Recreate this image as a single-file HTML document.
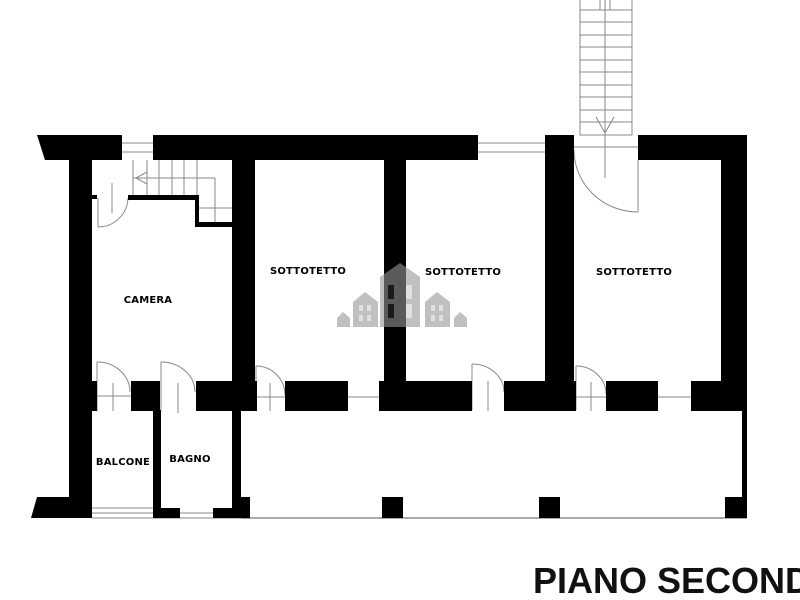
<!DOCTYPE html>
<html><head><style>html,body{margin:0;padding:0;background:#fff;width:800px;height:600px;overflow:hidden}</style></head>
<body>
<svg width="800" height="600" viewBox="0 0 800 600" xmlns="http://www.w3.org/2000/svg" font-family="Liberation Sans, sans-serif">
<rect width="800" height="600" fill="#fff"/>
<g stroke="#888" stroke-width="1" fill="none">
<rect x="580" y="-2" width="52" height="137"/>
<line x1="605" y1="0" x2="605" y2="178"/>
<line x1="600" y1="0" x2="600" y2="10"/><line x1="610" y1="0" x2="610" y2="10"/>
<line x1="580" y1="10" x2="632" y2="10"/><line x1="580" y1="22" x2="632" y2="22"/><line x1="580" y1="35" x2="632" y2="35"/><line x1="580" y1="47" x2="632" y2="47"/><line x1="580" y1="60" x2="632" y2="60"/><line x1="580" y1="72" x2="632" y2="72"/><line x1="580" y1="85" x2="632" y2="85"/><line x1="580" y1="97" x2="632" y2="97"/><line x1="580" y1="110" x2="632" y2="110"/><line x1="580" y1="122" x2="632" y2="122"/>
<polyline points="596,117 605,133 614,117"/>
<line x1="574" y1="147" x2="638" y2="147"/>
<path d="M574,150 A64,62 0 0 0 638,212"/><line x1="638" y1="160" x2="638" y2="212"/>
<line x1="122" y1="143" x2="153" y2="143"/><line x1="122" y1="152" x2="153" y2="152"/>
<line x1="478" y1="143" x2="545" y2="143"/><line x1="478" y1="152" x2="545" y2="152"/>
<line x1="133" y1="160" x2="133" y2="195"/><line x1="147" y1="160" x2="147" y2="195"/><line x1="159" y1="160" x2="159" y2="195"/><line x1="172" y1="160" x2="172" y2="195"/><line x1="184" y1="160" x2="184" y2="195"/><line x1="197" y1="160" x2="197" y2="225"/>
<line x1="133" y1="178" x2="215" y2="178"/><line x1="215" y1="178" x2="215" y2="225"/>
<line x1="197" y1="208" x2="232" y2="208"/><polyline points="147,172 136,178 147,184"/>
<line x1="98" y1="198" x2="98" y2="227"/><path d="M98,227 A30,30 0 0 0 128,198"/><line x1="112" y1="183" x2="112" y2="213"/>
<line x1="97" y1="362" x2="97" y2="411"/><path d="M97,362 A33,30 0 0 1 130,392"/><line x1="97" y1="396" x2="131" y2="396"/><line x1="113" y1="383" x2="113" y2="411"/>
<line x1="161" y1="362" x2="161" y2="411"/><path d="M161,362 A34,30 0 0 1 195,392"/><line x1="178" y1="383" x2="178" y2="413"/>
<line x1="256" y1="366" x2="256" y2="410"/><path d="M256,366 A29,29 0 0 1 285,395"/><line x1="255" y1="397" x2="285" y2="397"/><line x1="270" y1="383" x2="270" y2="411"/>
<line x1="472" y1="364" x2="472" y2="410"/><path d="M472,364 A32,28 0 0 1 504,392"/><line x1="488" y1="381" x2="488" y2="411"/>
<line x1="576" y1="366" x2="576" y2="410"/><path d="M576,366 A30,28 0 0 1 606,394"/><line x1="591" y1="382" x2="591" y2="411"/><line x1="576" y1="397" x2="606" y2="397"/>
<line x1="348" y1="397" x2="379" y2="397"/><line x1="658" y1="397" x2="691" y2="397"/>
<line x1="92" y1="508" x2="153" y2="508"/><line x1="92" y1="513" x2="153" y2="513"/>
<line x1="180" y1="513" x2="213" y2="513"/>
<line x1="241" y1="518" x2="747" y2="518" stroke="#aaa" stroke-width="2"/>
<line x1="92" y1="518" x2="250" y2="518"/>
</g>
<g fill="#000">
<polygon points="37,135 122,135 122,160 45,160"/>
<rect x="153" y="135" width="163" height="25"/>
<rect x="255" y="135" width="61" height="8"/>
<rect x="316" y="135" width="162" height="25"/>
<rect x="545" y="135" width="29" height="25"/>
<rect x="638" y="135" width="109" height="25"/>
<rect x="69" y="135" width="23" height="383"/>
<rect x="232" y="135" width="23" height="276"/>
<rect x="384" y="135" width="22" height="250"/>
<rect x="545" y="135" width="29" height="250"/>
<rect x="721" y="135" width="26" height="276"/>
<rect x="742" y="405" width="5" height="113"/>
<rect x="128" y="195" width="70" height="5"/>
<rect x="195" y="195" width="4" height="32"/>
<rect x="195" y="222" width="37" height="5"/>
<rect x="92" y="195" width="5" height="4"/>
<rect x="92" y="381" width="5" height="30"/>
<rect x="131" y="381" width="29" height="30"/>
<rect x="196" y="381" width="59" height="30"/>
<rect x="255" y="381" width="2" height="30"/>
<rect x="285" y="381" width="63" height="30"/>
<rect x="379" y="381" width="93" height="30"/>
<rect x="504" y="381" width="72" height="30"/>
<rect x="606" y="381" width="52" height="30"/>
<rect x="691" y="381" width="56" height="30"/>
<rect x="153" y="410" width="8" height="108"/>
<rect x="232" y="410" width="9" height="108"/>
<rect x="232" y="497" width="18" height="21"/>
<rect x="153" y="508" width="27" height="10"/>
<rect x="213" y="508" width="37" height="10"/>
<polygon points="37,497 92,497 92,518 31,518"/>
<rect x="382" y="497" width="21" height="21"/>
<rect x="539" y="497" width="21" height="21"/>
<rect x="725" y="497" width="22" height="21"/>
</g>
<g fill="rgb(150,150,150)" fill-opacity="0.6">
<polygon points="380,277 400,263 420,277 420,327 380,327"/>
<polygon points="353,302 365,292 378,302 378,327 353,327"/>
<polygon points="425,302 437,292 450,302 450,327 425,327"/>
<polygon points="337,318 343,312 350,318 350,327 337,327"/>
<polygon points="454,318 460,312 467,318 467,327 454,327"/>
</g>
<g fill="#fff" fill-opacity="0.5">
<rect x="406" y="285" width="6" height="14"/><rect x="406" y="304" width="6" height="14"/>
<rect x="359" y="305" width="4" height="6"/><rect x="367" y="305" width="4" height="6"/><rect x="359" y="315" width="4" height="6"/><rect x="367" y="315" width="4" height="6"/>
<rect x="431" y="305" width="4" height="6"/><rect x="439" y="305" width="4" height="6"/><rect x="431" y="315" width="4" height="6"/><rect x="439" y="315" width="4" height="6"/>
</g>
<g fill="#000" fill-opacity="0.7"><rect x="388" y="285" width="6" height="14"/><rect x="388" y="304" width="6" height="14"/></g>
<g font-family="DejaVu Sans, sans-serif" font-weight="bold" font-size="10" fill="#000" text-anchor="middle" letter-spacing="0.2">
<text x="148" y="303">CAMERA</text>
<text x="308" y="274">SOTTOTETTO</text>
<text x="463" y="275">SOTTOTETTO</text>
<text x="634" y="275">SOTTOTETTO</text>
<text x="123" y="465">BALCONE</text>
<text x="190" y="462">BAGNO</text>
</g>
<text x="533" y="593" font-size="36" font-weight="bold" fill="#111">PIANO SECONDO</text>
</svg>
</body></html>
